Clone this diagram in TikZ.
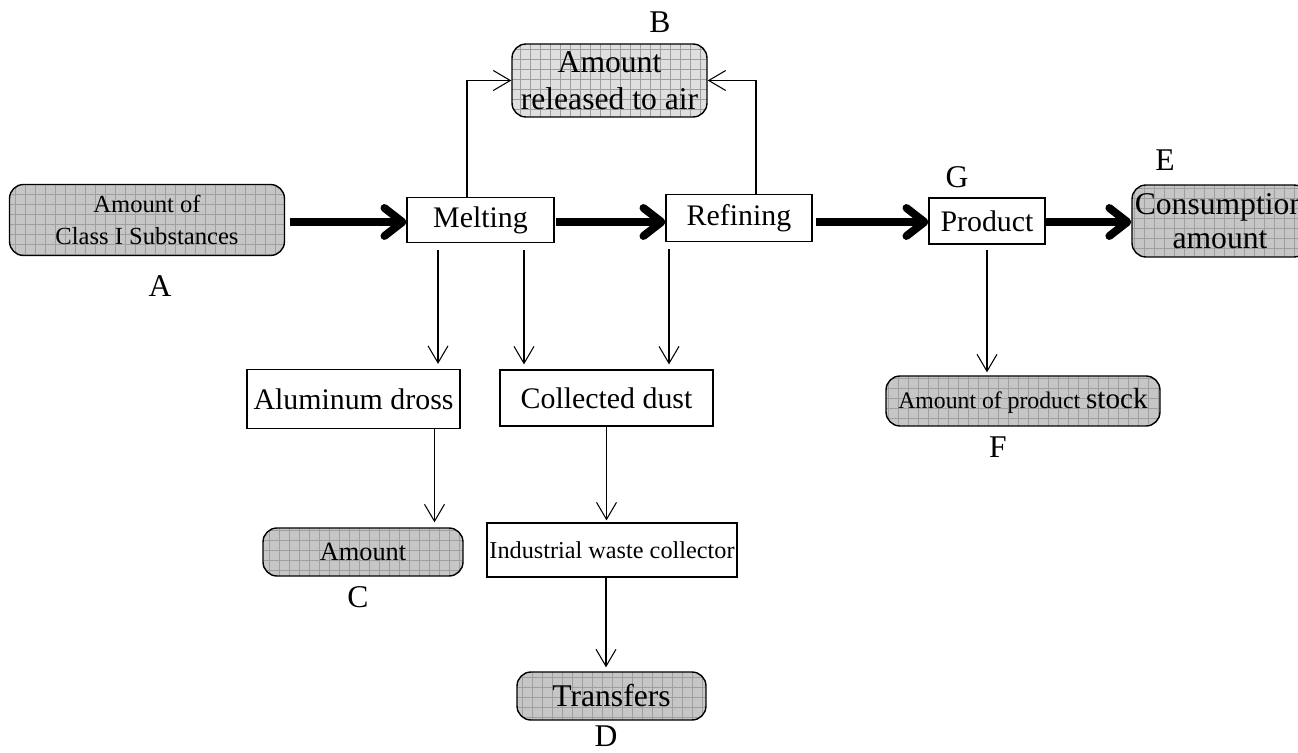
\documentclass[tikz,border=0pt]{standalone}
\usepackage{fontspec}
\setmainfont{Liberation Serif}
\usetikzlibrary{arrows.meta}

\tikzset{
  gridfill/.style={path picture={\draw[gray!75!black!60, line width=0.4pt, step=0.2cm]
      (path picture bounding box.south west) grid (path picture bounding box.north east);}},
  flowbox/.style={draw, rectangle, line width=0.7pt, fill=white, inner sep=1pt, align=center},
  amountbox/.style={draw, rounded corners=0.28cm, line width=0.8pt, fill=gray!45, gridfill, inner sep=1pt, align=center},
  airbox/.style={amountbox, fill=gray!25},
  letter/.style={font=\fontsize{18}{20}\selectfont},
  flowarrow/.style={line width=4.5pt, -{Straight Barb[round, length=0.36cm, width=0.56cm]}},
  thinarrow/.style={line width=0.6pt, -{Straight Barb[length=0.34cm, width=0.4cm]}}
}

\begin{document}
\begin{tikzpicture}[x=0.02cm, y=-0.02cm]
    \useasboundingbox (0,0) rectangle (1298,753);

    % Nodes
    \node (amtA) [amountbox, minimum width=5.5cm, minimum height=1.42cm, font=\fontsize{14}{18}\selectfont] at (147,220) {Amount of\\Class I Substances};
    \node (melt) [flowbox, minimum width=2.94cm, minimum height=0.9cm, font=\fontsize{17}{19}\selectfont] at (480.5,220) {Melting};
    \node (refine) [flowbox, minimum width=2.92cm, minimum height=0.94cm, font=\fontsize{17}{19}\selectfont] at (739,218) {Refining};
    \node (rel) [airbox, minimum width=3.9cm, minimum height=1.46cm, font=\fontsize{18}{21}\selectfont] at (609.5,80.5) {Amount\\released to air};
    \node (prod) [flowbox, minimum width=2.32cm, minimum height=0.92cm, font=\fontsize{17}{19}\selectfont] at (987,221) {Product};
    \node (cons) [amountbox, minimum width=3.52cm, minimum height=1.44cm, inner sep=0pt, font=\fontsize{18}{19}\selectfont] at (1220,221) {Consumption\\amount};
    \node (stock) [amountbox, minimum width=5.48cm, minimum height=1.0cm, font=\fontsize{13.5}{16}\selectfont] at (1023,401) {Amount of product {\fontsize{16.6}{18}\selectfont stock}};

    \node (dross) [flowbox, minimum width=4.26cm, minimum height=1.18cm, font=\fontsize{17}{19}\selectfont] at (353.5,399) {Aluminum dross};
    \node (dust) [flowbox, minimum width=4.26cm, minimum height=1.12cm, font=\fontsize{17}{19}\selectfont] at (606.5,398) {Collected dust};
    \node (amtC) [amountbox, minimum width=4.0cm, minimum height=0.96cm, font=\fontsize{15}{17}\selectfont] at (363,552) {Amount};
    \node (iwc) [flowbox, minimum width=5.0cm, minimum height=1.08cm, font=\fontsize{13.8}{16}\selectfont] at (612,550) {Industrial waste collector};
    \node (trans) [amountbox, minimum width=3.78cm, minimum height=0.96cm, font=\fontsize{18}{20}\selectfont] at (611.5,696) {Transfers};

    % Letters
    \node (labA) [letter] at (160,286) {A};
    \node (labB) [letter] at (660,22) {B};
    \node (labC) [letter] at (358,597) {C};
    \node (labD) [letter] at (606,736) {D};
    \node (labE) [letter] at (1165,160) {E};
    \node (labF) [letter] at (998,447) {F};
    \node (labG) [letter] at (957,177) {G};

    % Arrows
    \draw[flowarrow, shorten <=3pt] (amtA.east |- 0,222) -- (melt.west |- 0,222);
    \draw[flowarrow, shorten <=1pt] (melt.east |- 0,222) -- (refine.west |- 0,222);
    \draw[flowarrow, shorten <=2pt] (refine.east |- 0,222) -- (prod.west |- 0,222);
    \draw[flowarrow] (prod.east |- 0,222) -- (cons.west |- 0,222);

    \draw[thinarrow] ([xshift=-0.27cm]melt.north) |- (rel.west);
    \draw[thinarrow] ([xshift=0.34cm]refine.north) |- (rel.east);

    \draw[thinarrow, shorten <=0.14cm, shorten >=0.1cm] ([xshift=-0.85cm]melt.south) -- ([xshift=-0.85cm]melt.south |- dross.north);
    \draw[thinarrow, shorten <=0.14cm, shorten >=0.1cm] ([xshift=0.87cm]melt.south) -- ([xshift=0.87cm]melt.south |- dust.north);
    \draw[thinarrow, shorten <=0.14cm, shorten >=0.1cm] ([xshift=-1.4cm]refine.south) -- ([xshift=-1.4cm]refine.south |- dust.north);

    \draw[thinarrow, shorten >=0.1cm] ([xshift=1.62cm]dross.south) -- ([xshift=1.62cm]dross.south |- amtC.north);
    \draw[thinarrow, shorten >=0.04cm] (dust.south) -- (dust.south |- iwc.north);
    \draw[thinarrow, shorten >=0.08cm] ([xshift=-0.12cm]iwc.south) -- ([xshift=-0.12cm]iwc.south |- trans.north);
    \draw[thinarrow, shorten <=0.1cm, shorten >=0.06cm] (prod.south) -- (prod.south |- stock.north);

\end{tikzpicture}
\end{document}
